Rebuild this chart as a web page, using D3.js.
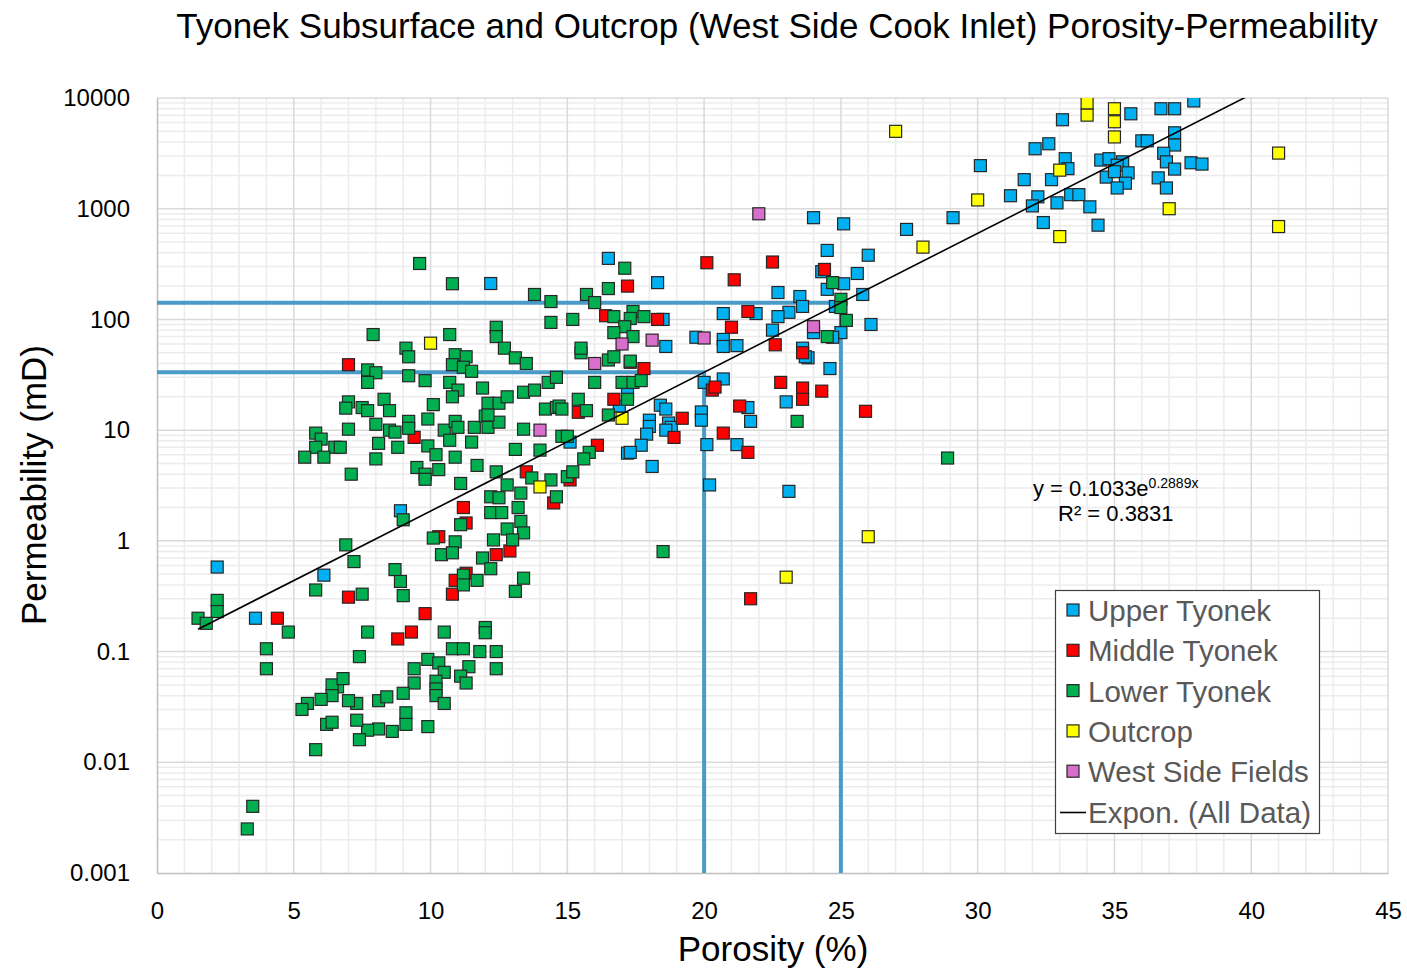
<!DOCTYPE html>
<html lang="en">
<head>
<meta charset="UTF-8" />
<title>Tyonek Porosity-Permeability</title>
<script src="https://d3js.org/d3.v7.min.js"></script>
<style>
  body { margin: 0; background: #fff; }
  svg { display: block; font-family: Arial, 'Liberation Sans', sans-serif; }
  .tick text { fill: #000; }
</style>
</head>
<body>
<svg id="chart" width="1407" height="970"></svg>
<script>
// [porosity %, permeability mD]
const upperTyonek = [
  [2.2, 0.58], [3.6, 0.2], [6.1, 0.49], [8.9, 1.87], [12.2, 211], [16.5, 356], [18.3, 215],
  [24.0, 830], [20.7, 113], [22.7, 175], [23.5, 161], [23.6, 131], [23.1, 116], [22.7, 106],
  [21.9, 113], [22.5, 80], [18.5, 100], [24.5, 420], [24.3, 270], [24.5, 187], [19.7, 69],
  [20.7, 66], [25.1, 730], [26.0, 380], [25.6, 260], [25.1, 210], [25.8, 168], [24.8, 131],
  [26.1, 90], [25.0, 76], [24.0, 76], [24.7, 69], [23.8, 45], [24.6, 36], [27.4, 650],
  [29.1, 830], [30.1, 2450], [31.2, 1310], [31.7, 1830], [32.1, 3480], [32.6, 3860],
  [33.1, 6360], [33.2, 2830], [33.3, 2300], [32.7, 1830], [32.2, 1280], [32.0, 1060],
  [32.4, 750], [32.9, 1130], [33.4, 1340], [33.7, 1340], [34.1, 1040], [34.4, 710],
  [34.5, 2750], [35.6, 7200], [36.7, 8000], [37.2, 8000], [37.9, 9400], [34.8, 2830],
  [35.3, 2650], [35.1, 2470], [34.7, 1930], [35.0, 2160], [35.5, 2110], [35.4, 1700],
  [35.1, 1540], [36.0, 4100], [36.2, 4100], [37.2, 4850], [37.2, 3760], [36.8, 3170],
  [36.9, 2650], [37.2, 2280], [36.6, 1900], [36.9, 1540], [37.8, 2600], [38.2, 2530],
  [18.6, 57], [20.7, 57], [21.2, 58], [23.6, 55], [23.7, 46], [20.7, 29], [20.0, 27],
  [23.0, 18], [21.6, 16], [21.7, 12], [19.9, 14.6], [19.9, 12.3], [20.1, 7.4], [21.2, 7.4],
  [20.2, 3.2], [23.1, 2.8], [18.4, 16.8], [18.6, 15.5], [18.0, 12.3], [18.0, 10.8],
  [18.7, 11.6], [18.8, 10.6], [18.6, 10], [17.9, 9.2], [17.7, 7.3], [17.2, 6.2], [17.3, 6.3],
  [18.1, 4.7], [17.2, 21], [16.9, 16.5], [15.1, 7.8]
];
const middleTyonek = [
  [7.0, 39], [9.4, 8.6], [11.2, 2.0], [11.3, 1.45], [10.3, 1.09], [12.4, 0.75], [10.9, 0.44],
  [11.3, 0.51], [7.0, 0.31], [4.4, 0.2], [9.8, 0.22], [10.8, 0.33], [9.3, 0.15], [8.8, 0.13],
  [12.9, 0.81], [13.5, 4.2], [14.5, 2.2], [15.1, 3.55], [16.1, 7.3], [17.8, 36], [17.3, 41],
  [16.7, 19], [15.4, 14.5], [19.2, 12.8], [18.9, 8.6], [20.3, 23], [20.4, 24.5], [21.3, 16.5],
  [20.7, 9.4], [21.6, 6.3], [22.6, 59], [22.8, 27], [23.6, 50], [23.6, 24], [23.6, 19],
  [24.3, 22.5], [25.9, 14.8], [21.7, 0.3], [20.1, 325], [22.5, 330], [21.1, 228], [24.4, 283],
  [17.2, 200], [21.6, 118], [21.0, 85], [18.3, 100], [16.4, 108]
];
const lowerTyonek = [
  [9.6, 320], [10.8, 210], [7.9, 73], [10.7, 73], [12.4, 85], [12.4, 70], [13.8, 168],
  [14.4, 145], [14.4, 94], [12.7, 55], [13.1, 45], [13.5, 40], [9.1, 55], [9.2, 46],
  [7.7, 35], [8.0, 33], [7.7, 27], [9.2, 31], [9.8, 28], [10.9, 48], [11.3, 46], [10.8, 39],
  [11.2, 37], [11.5, 34], [10.7, 27], [11.0, 23], [10.8, 20], [11.9, 24], [12.1, 17.5],
  [12.5, 17.5], [12.8, 20], [13.4, 22], [13.8, 23], [14.3, 27], [14.6, 30], [14.2, 15.5],
  [14.6, 16], [8.3, 19], [8.5, 15], [7.0, 18], [6.9, 15.8], [7.5, 16], [7.7, 15], [8.0, 11.3],
  [7.0, 10.2], [8.5, 10], [8.7, 9.6], [9.2, 12], [9.2, 10.4], [8.1, 7.6], [8.8, 7.0],
  [9.9, 7.2], [10.1, 17], [9.9, 12.6], [10.5, 10], [10.7, 8.1], [10.9, 12], [11.0, 10.6],
  [11.6, 10.6], [12.0, 13.4], [12.1, 10.6], [12.5, 11.8], [11.5, 7.8], [13.4, 10.2],
  [5.8, 9.4], [6.0, 8.3], [5.8, 7.0], [6.5, 7.0], [6.7, 7.0], [5.4, 5.7], [6.1, 5.7],
  [7.1, 4.0], [8.0, 5.5], [10.2, 6.0], [10.9, 5.7], [9.5, 4.6], [9.8, 4.0], [9.8, 3.6],
  [10.3, 4.4], [11.1, 3.3], [11.7, 4.8], [12.4, 4.2], [12.2, 2.5], [12.2, 1.8], [11.1, 1.4],
  [10.9, 0.98], [10.1, 1.06], [10.4, 0.75], [10.8, 0.78], [11.9, 0.7], [12.2, 0.56],
  [11.2, 0.49], [11.2, 0.40], [11.7, 0.44], [9.0, 1.55], [8.7, 0.55], [8.9, 0.43],
  [6.9, 0.92], [7.2, 0.65], [5.8, 0.36], [7.5, 0.33], [9.0, 0.32], [2.2, 0.29], [2.2, 0.23],
  [1.5, 0.2], [1.8, 0.18], [4.8, 0.15], [4.0, 0.106], [4.0, 0.07], [7.7, 0.15], [7.4, 0.09],
  [10.5, 0.15], [10.8, 0.106], [11.2, 0.106], [12.0, 0.165], [12.0, 0.148], [11.8, 0.1],
  [12.4, 0.1], [12.4, 0.07], [11.4, 0.073], [11.1, 0.06], [11.3, 0.052], [9.9, 0.085],
  [10.3, 0.079], [10.5, 0.065], [10.2, 0.054], [10.2, 0.046], [10.2, 0.04], [10.5, 0.034],
  [9.4, 0.07], [9.4, 0.052], [9.0, 0.042], [9.1, 0.028], [9.1, 0.022], [8.6, 0.019],
  [9.9, 0.021], [8.1, 0.02], [7.7, 0.0195], [7.4, 0.016], [7.3, 0.024], [7.3, 0.034],
  [7.0, 0.036], [8.1, 0.036], [8.4, 0.039], [6.6, 0.048], [6.4, 0.05], [6.8, 0.057],
  [6.4, 0.04], [6.0, 0.037], [5.5, 0.034], [5.3, 0.03], [6.2, 0.022], [6.4, 0.023],
  [5.8, 0.013], [3.5, 0.004], [3.3, 0.0025], [13.1, 6.7], [14.0, 6.6], [14.8, 8.8],
  [15.0, 8.8], [12.8, 3.2], [13.3, 2.7], [12.5, 2.45], [13.2, 2.0], [12.6, 1.8], [13.3, 1.5],
  [12.8, 1.28], [13.4, 1.18], [13.0, 1.02], [12.3, 1.02], [13.7, 3.7], [14.4, 3.55],
  [15.0, 3.8], [14.6, 2.5], [15.8, 6.3], [15.6, 5.5], [15.2, 4.2], [13.4, 0.46], [13.1, 0.35],
  [15.5, 50], [15.5, 55], [16.5, 43], [16.7, 46], [17.3, 42], [16.0, 27], [17.0, 27],
  [17.4, 27], [17.7, 28], [15.4, 19], [15.7, 15], [14.7, 16.5], [14.8, 15.5], [16.5, 13.7],
  [12.1, 13.7], [18.5, 0.8], [23.4, 12], [24.5, 70], [17.2, 19], [17.1, 290], [16.5, 190],
  [15.7, 168], [16.0, 142], [15.2, 100], [16.7, 106], [17.4, 118], [17.3, 102], [17.8, 106],
  [17.1, 86], [16.7, 76], [17.4, 70], [24.7, 215], [25.0, 152], [25.0, 128], [25.2, 98],
  [28.9, 5.6]
];
const outcrop = [
  [10.0, 61], [14.0, 3.07], [17.0, 12.8], [26.0, 1.09], [23.0, 0.47], [27.0, 5000],
  [28.0, 450], [30.0, 1200], [33.0, 560], [33.0, 2230], [34.0, 9000], [34.0, 7000],
  [35.0, 8000], [35.0, 6100], [35.0, 4450], [37.0, 1000], [41.0, 3180], [41.0, 690]
];
const westSideFields = [
  [22.0, 900], [24.0, 86], [20.0, 68], [18.1, 65], [17.0, 60], [16.0, 40], [14.0, 10]
];

const seriesNames = ['Upper Tyonek', 'Middle Tyonek', 'Lower Tyonek', 'Outcrop', 'West Side Fields'];
const seriesColors = ['#00b0f0', '#ff0000', '#00b050', '#ffff00', '#d86fcc'];
const seriesData = [upperTyonek, middleTyonek, lowerTyonek, outcrop, westSideFields];

const xTicks = [0, 5, 10, 15, 20, 25, 30, 35, 40, 45];
const yTicks = [0.001, 0.01, 0.1, 1, 10, 100, 1000, 10000];

// exponential fit shown on chart: y = 0.1033 e^(0.2889x)
const fitA = 0.1033;
const fitB = 0.2889;
const cutoffPorosity = [20, 25];

const svg = d3.select('#chart');
const W = 1407;
const H = 970;
const margin = { top: 98, right: 19, bottom: 97, left: 157 };
const plotL = margin.left;
const plotR = W - margin.right;
const plotT = margin.top;
const plotB = H - margin.bottom;

const x = d3.scaleLinear().domain([0, 45]).range([plotL, plotR]);
const y = d3.scaleLog().domain([0.001, 10000]).range([plotB, plotT]);

svg.append('clipPath').attr('id', 'plot-clip')
  .append('rect')
  .attr('x', plotL).attr('y', plotT)
  .attr('width', plotR - plotL).attr('height', plotB - plotT);

// gridlines
const grid = svg.append('g');
const minorX = d3.range(1, 45).filter((d) => d % 5 !== 0);
const majorX = d3.range(5, 46, 5);
const minorY = [];
for (let e = -3; e < 4; e++) {
  for (let k = 2; k < 10; k++) minorY.push(k * Math.pow(10, e));
}

grid.selectAll('line.minor-x').data(minorX).enter().append('line')
  .attr('x1', (d) => x(d)).attr('x2', (d) => x(d))
  .attr('y1', plotT).attr('y2', plotB)
  .attr('stroke', '#ececec').attr('stroke-width', 1.5);
grid.selectAll('line.minor-y').data(minorY).enter().append('line')
  .attr('x1', plotL).attr('x2', plotR)
  .attr('y1', (d) => y(d)).attr('y2', (d) => y(d))
  .attr('stroke', '#ececec').attr('stroke-width', 1.5);
grid.selectAll('line.major-x').data(majorX).enter().append('line')
  .attr('x1', (d) => x(d)).attr('x2', (d) => x(d))
  .attr('y1', plotT).attr('y2', plotB)
  .attr('stroke', '#dadada').attr('stroke-width', 1.5);
grid.selectAll('line.major-y').data(yTicks.slice(1)).enter().append('line')
  .attr('x1', plotL).attr('x2', plotR)
  .attr('y1', (d) => y(d)).attr('y2', (d) => y(d))
  .attr('stroke', '#dadada').attr('stroke-width', 1.5);

// axes
const xAxis = svg.append('g')
  .attr('transform', `translate(0,${plotB})`)
  .call(d3.axisBottom(x).tickValues(xTicks).tickSize(0).tickPadding(29).tickFormat(d3.format('d')));
const yAxis = svg.append('g')
  .attr('transform', `translate(${plotL},0)`)
  .call(d3.axisLeft(y).tickValues(yTicks).tickSize(0).tickPadding(27).tickFormat((d) => String(d)));
[xAxis, yAxis].forEach((g) => {
  g.select('.domain').attr('stroke', '#bfbfbf').attr('stroke-width', 1.5);
  g.selectAll('text').attr('font-size', 24).attr('font-family', 'Arial, Liberation Sans, sans-serif');
});

// cutoff lines from the fit at 20% and 25% porosity
const refs = svg.append('g');
cutoffPorosity.forEach((p) => {
  const k = fitA * Math.exp(fitB * p);
  refs.append('path')
    .attr('d', d3.line()([[x(0), y(k)], [x(p), y(k)], [x(p), y(0.001)]]))
    .attr('fill', 'none')
    .attr('stroke', '#4a9bc8')
    .attr('stroke-width', 4);
});

// markers, drawn in series order
const pts = svg.append('g').attr('clip-path', 'url(#plot-clip)');
seriesData.forEach((data, i) => {
  pts.append('g').selectAll('rect').data(data).enter().append('rect')
    .attr('x', (d) => x(d[0]) - 6)
    .attr('y', (d) => y(d[1]) - 6)
    .attr('width', 12).attr('height', 12)
    .attr('fill', seriesColors[i])
    .attr('stroke', '#262626')
    .attr('stroke-width', 1.2);
});

// trendline over the porosity range of all data
const allData = seriesData.flat();
const xMin = d3.min(allData, (d) => d[0]);
const xMax = d3.max(allData, (d) => d[0]);
pts.append('path')
  .attr('d', d3.line()
    .x((d) => x(d))
    .y((d) => y(fitA * Math.exp(fitB * d)))([xMin, xMax]))
  .attr('fill', 'none')
  .attr('stroke', '#000')
  .attr('stroke-width', 1.6);

// equation label
const eq = svg.append('text').attr('x', 1033).attr('y', 496)
  .attr('font-size', 22).attr('fill', '#000');
eq.append('tspan').text('y = 0.1033e');
eq.append('tspan').attr('font-size', 14).attr('dy', -8).text('0.2889x');
svg.append('text').attr('x', 1058).attr('y', 521)
  .attr('font-size', 22).attr('fill', '#000').text('R² = 0.3831');

// legend
const legend = svg.append('g');
legend.append('rect')
  .attr('x', 1055.5).attr('y', 590.5).attr('width', 264).attr('height', 243)
  .attr('fill', '#fff').attr('stroke', '#404040').attr('stroke-width', 1.2);
const rowY = (i) => 621 + i * 40.3;
seriesNames.forEach((name, i) => {
  legend.append('rect')
    .attr('x', 1067).attr('y', rowY(i) - 17).attr('width', 12).attr('height', 12)
    .attr('fill', seriesColors[i]).attr('stroke', '#262626').attr('stroke-width', 1.2);
  legend.append('text').attr('x', 1088).attr('y', rowY(i))
    .attr('font-size', 29.5).attr('fill', '#595959').text(name);
});
legend.append('line')
  .attr('x1', 1060).attr('x2', 1086).attr('y1', rowY(5) - 10).attr('y2', rowY(5) - 10)
  .attr('stroke', '#000').attr('stroke-width', 1.6);
legend.append('text').attr('x', 1088).attr('y', rowY(5))
  .attr('font-size', 29.5).attr('fill', '#595959').text('Expon. (All Data)');

// titles
svg.append('text').attr('x', 777).attr('y', 38).attr('text-anchor', 'middle')
  .attr('font-size', 35).attr('fill', '#000')
  .text('Tyonek Subsurface and Outcrop (West Side Cook Inlet) Porosity-Permeability');
svg.append('text').attr('x', 773).attr('y', 961).attr('text-anchor', 'middle')
  .attr('font-size', 35).attr('fill', '#000').text('Porosity (%)');
svg.append('text').attr('transform', 'translate(46,485) rotate(-90)').attr('text-anchor', 'middle')
  .attr('font-size', 35).attr('fill', '#000').text('Permeability (mD)');
</script>
</body>
</html>
